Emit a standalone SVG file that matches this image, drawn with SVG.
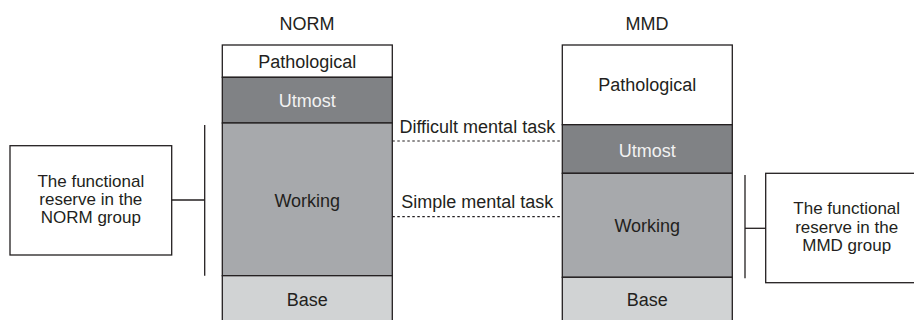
<svg xmlns="http://www.w3.org/2000/svg" width="914" height="320" viewBox="0 0 914 320">
<style>
text{font-family:"Liberation Sans",Arial,sans-serif;font-size:18px;fill:#231f20;text-anchor:middle}
.r{font-size:17px}
.w{fill:#f2f2f2}
.b{stroke:#231f20;stroke-width:1.3}
.ln{stroke:#231f20;stroke-width:1.3;fill:none}
.d{stroke:#231f20;stroke-width:1.2;stroke-dasharray:2.5,2.5;fill:none}
.p{fill:#ffffff}
.u{fill:#808285}
.wk{fill:#a7a9ac}
.bs{fill:#d1d3d4}
</style>
<rect width="914" height="320" fill="#ffffff"/>
<g id="norm">
<text x="307" y="30">NORM</text>
<rect class="b p" x="222.3" y="45" width="170" height="32.3"/>
<rect class="b u" x="222.3" y="77.3" width="170" height="45.7"/>
<rect class="b wk" x="222.3" y="123" width="170" height="152.7"/>
<rect class="b bs" x="222.3" y="275.7" width="170" height="50"/>
<text x="307.3" y="68.3">Pathological</text>
<text class="w" x="307.3" y="106.7">Utmost</text>
<text x="307.3" y="207">Working</text>
<text x="307.3" y="306">Base</text>
</g>
<g id="mmd">
<text x="647" y="29.5">MMD</text>
<rect class="b p" x="562.3" y="45" width="170" height="79.7"/>
<rect class="b u" x="562.3" y="124.7" width="170" height="48.6"/>
<rect class="b wk" x="562.3" y="173.3" width="170" height="104"/>
<rect class="b bs" x="562.3" y="277.3" width="170" height="50"/>
<text x="647.3" y="90.7">Pathological</text>
<text class="w" x="647.3" y="156.7">Utmost</text>
<text x="647.3" y="231.7">Working</text>
<text x="647.3" y="306">Base</text>
</g>
<g id="norm-reserve">
<rect class="ln" x="10" y="145.7" width="161.7" height="109.3" fill="#ffffff"/>
<text class="r" x="90.8" y="187.3">The functional</text>
<text class="r" x="90.8" y="205">reserve in the</text>
<text class="r" x="90.8" y="222.7">NORM group</text>
</g>
<g id="mmd-reserve">
<rect class="ln" x="765.7" y="173.3" width="162" height="109.4" fill="#ffffff"/>
<text class="r" x="846.7" y="214.3">The functional</text>
<text class="r" x="846.7" y="232.5">reserve in the</text>
<text class="r" x="846.7" y="250.7">MMD group</text>
</g>
<g id="tasks">
<text x="477.3" y="133.3">Difficult mental task</text>
<text x="477.3" y="208.3">Simple mental task</text>
</g>
<g id="connectors">
<line class="d" x1="392.3" y1="141" x2="562.3" y2="141"/>
<line class="d" x1="392.3" y1="216.7" x2="562.3" y2="216.7"/>
<line class="ln" x1="204.7" y1="125" x2="204.7" y2="275.7"/>
<line class="ln" x1="171.7" y1="200" x2="204.7" y2="200"/>
<line class="ln" x1="745" y1="175" x2="745" y2="278.3"/>
<line class="ln" x1="745" y1="228.3" x2="765.7" y2="228.3"/>
</g>
</svg>
